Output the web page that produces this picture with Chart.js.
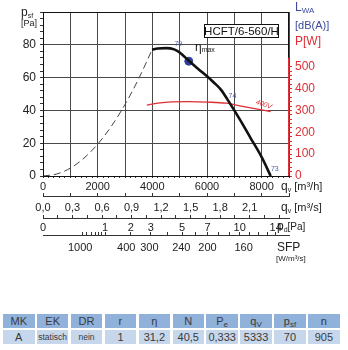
<!DOCTYPE html>
<html><head><meta charset="utf-8">
<script src="https://cdn.jsdelivr.net/npm/chart.js@4/dist/chart.umd.min.js"></script>
<style>
html,body{margin:0;padding:0;background:#fff;}
#wrap{position:relative;width:348px;height:350px;overflow:hidden;font-family:"Liberation Sans",Arial,Helvetica,sans-serif;}
#cv{position:absolute;left:0;top:0;}
.row{position:absolute;left:0;height:14px;width:348px;}
.cell{position:absolute;top:0;height:14px;width:31.5px;text-align:center;line-height:14px;color:#3a3a3a;font-size:11px;white-space:nowrap;}
.hd .cell{background:#8fb1da;}
.dt .cell{background:#c6d7ec;}
.cell .sb{font-size:8px;position:relative;top:2px;}
.cell.sm{font-size:8.5px;}
</style></head>
<body><div id="wrap"><canvas id="cv" width="348" height="265"></canvas>
<div id="tbl"></div></div>
<script>
// ---------- data ----------
const sysQ = [0, 500, 1000, 1500, 2000, 2500, 3000, 3500, 3990];
const sysP = [0, 1.2, 4.8, 10.9, 19.4, 30.3, 43.6, 59.3, 77];
const fanQ = [3990, 4200, 4500, 4800, 5000, 5333, 5700, 6000, 6250, 6500, 6850, 7200, 7600, 8000, 8330];
const fanP = [77, 77.7, 78, 77.2, 75.3, 70.3, 65, 60.8, 57, 52.8, 44, 34.5, 23, 11.5, 0];
const powQ = [3800, 4200, 4700, 5300, 6000, 6700, 7200, 7800, 8330];
const powW = [324, 333, 339, 340, 338, 333, 321, 307, 295];
const etaQ = [5333];
const etaP = [70];

const qhLabels = [0, 2000, 4000, 6000, 8000];
const qsLabels = ['0,0','0,3','0,6','0,9','1,2','1,5','1,8','2,1'];
const qsValues = [0, 0.3, 0.6, 0.9, 1.2, 1.5, 1.8, 2.1];
const pdLabels = ['0','1','2','3','5','7','10','14'];
const pdPos = [0, 2275, 3217, 3940, 5087, 6019, 7194, 8512];
const pdMarkPos = [1439, 1609, 1762, 1903, 2035, 2158, 2275, 3217, 3940, 4550, 5087, 5572, 6019, 6435, 6825, 7194, 7545, 7881, 8203, 8512];
const sfpLabels = ['1000','400','300','240','200','160'];
const sfpPos = [1360, 3046, 3890, 5060, 6020, 7340];
const yLabels = [0, 20, 40, 60, 80];
const y2Labels = [0, 100, 200, 300, 400, 500];

const tableHead = ['MK','EK','DR','r','η','N','P|e','q|V','p|sf','n'];
const tableRow = ['A','statisch','nein','1','31,2','40,5','0,333','5333','70','905'];

// ---------- style ----------
const FF = "'Liberation Sans', Arial, Helvetica, sans-serif";
const RED = '#dc2f36';
const BLUE = '#3b4a9e';
const TXT = '#222';
Chart.defaults.font.family = FF;

const pts = (xs, ys) => xs.map((v, i) => ({x: v, y: ys[i]}));

function sortTicks(list){ return list.sort((a,b)=>a.value-b.value); }

const x1Ticks = () => { const t=[]; for(let v=0; v<=9000; v+=200) t.push({value:v, lab: qhLabels.includes(v)? String(v):'', mark:true}); return t; };
const x2Ticks = () => {
  const t=[]; for(let v=0; v<=9000; v+=1000) t.push({value:v, lab:'', mark:true});
  qsValues.forEach((v,i)=>{ const q=Math.round(v*3600); const f=t.find(o=>o.value===q); if(f) f.lab=qsLabels[i]; else t.push({value:q, lab:qsLabels[i], mark:false}); });
  return sortTicks(t);
};
const x3Ticks = () => {
  const t=[]; for(let k=0; k<=16; k++) t.push({value:Math.round(k*0.15*3600), lab:'', mark:true});
  pdPos.forEach((p,i)=>{ const f=t.find(o=>o.value===p); if(f) f.lab=pdLabels[i]; else t.push({value:p, lab:pdLabels[i], mark:false}); });
  return sortTicks(t);
};
const x4Ticks = () => {
  const t=[]; pdMarkPos.forEach(p=>t.push({value:p, lab:'', mark:true}));
  sfpPos.forEach((p,i)=>t.push({value:p, lab:sfpLabels[i], mark:false}));
  return sortTicks(t);
};

function hScale(weight, height, tickFn, tl, pad){
  return {
    type:'linear', position:'bottom', min:0, max:9000, weight,
    afterBuildTicks: s => { s.ticks = tickFn(); },
    afterFit: s => { s.height = height; },
    ticks:{ autoSkip:false, maxRotation:0, minRotation:0, padding:pad, color:TXT, font:{size:11},
            callback:(v,i,t)=> t[i].lab },
    grid:{ drawOnChartArea:false, tickLength:tl, tickWidth:1,
           tickColor: c => (c.tick && c.tick.mark) ? '#333' : 'rgba(0,0,0,0)' },
    border:{ display:true, color:'#333', width:1 }
  };
}

const annot = {
  id:'annot',
  afterDraw(chart){
    const {ctx, chartArea:a, scales} = chart;
    const x = scales.x, y = scales.y, y2 = scales.y2;
    ctx.save();
    // frame
    ctx.lineWidth = 1; ctx.strokeStyle = '#111';
    const r = Math.round(a.right)-0.5, l = Math.round(a.left)+0.5, t = Math.round(a.top)+0.5;
    const redTop = y2.getPixelForValue(540);
    ctx.beginPath(); ctx.moveTo(l, a.bottom); ctx.lineTo(l, t); ctx.lineTo(r, t); ctx.lineTo(r, redTop); ctx.stroke();
    ctx.strokeStyle = RED; ctx.beginPath(); ctx.moveTo(r, redTop); ctx.lineTo(r, a.bottom); ctx.stroke();

    ctx.textBaseline = 'middle'; ctx.textAlign = 'left';
    function sub(px, py, main, s, ms, ss, col, rest, rs){
      ctx.fillStyle = col;
      ctx.font = ms + 'px ' + FF; ctx.fillText(main, px, py);
      let w = ctx.measureText(main).width;
      ctx.font = ss + 'px ' + FF; ctx.fillText(s, px + w, py + 3);
      w += ctx.measureText(s).width;
      if (rest){ ctx.font = rs + 'px ' + FF; ctx.fillText(rest, px + w, py); }
    }
    // left title
    sub(21, a.top + 1, 'p', 'sf', 12, 7, TXT);
    ctx.font = '9px ' + FF; ctx.fillStyle = TXT; ctx.fillText('[Pa]', 21, a.top + 12);
    // right titles
    const rx = a.right + 6;
    sub(rx, a.top - 4, 'L', 'WA', 12, 8, BLUE);
    ctx.font = '11px ' + FF; ctx.fillStyle = BLUE; ctx.fillText('[dB(A)]', rx, a.top + 14);
    ctx.font = '12px ' + FF; ctx.fillStyle = RED; ctx.fillText('P[W]', rx, a.top + 30);
    // bottom row titles
    const tx = a.right - 8;
    sub(tx, scales.x.top + 11, 'q', 'v', 12, 7, TXT, ' [m³/h]', 11);
    sub(tx, scales.x2.top + 12, 'q', 'v', 12, 7, TXT, ' [m³/s]', 11);
    sub(tx - 4, scales.x3.top + 9, 'p', 'd', 12, 7, TXT, '[Pa]', 10);
    ctx.font = '12px ' + FF; ctx.fillStyle = TXT; ctx.fillText('SFP', tx - 4, scales.x4.top + 13);
    ctx.font = '8px ' + FF; ctx.fillText('[W/m³/s]', tx - 5, scales.x4.top + 24);

    // model box
    const bw = 74, bh = 13, bx = a.right - 11 - bw, by = a.top + 12;
    ctx.fillStyle = '#fff'; ctx.fillRect(bx, by, bw, bh);
    ctx.strokeStyle = '#111'; ctx.strokeRect(bx + 0.5, by + 0.5, bw, bh);
    ctx.fillStyle = '#111'; ctx.font = '11.5px ' + FF; ctx.textAlign = 'center';
    ctx.fillText('HCFT/6-560/H', bx + bw/2 + 0.5, by + bh/2 + 1);

    // curve labels
    ctx.font = '7px ' + FF; ctx.fillStyle = '#4a5aa8';
    ctx.fillText('79', x.getPixelForValue(4950), y.getPixelForValue(80.6));
    ctx.fillText('74', x.getPixelForValue(6930), y.getPixelForValue(48.8));
    ctx.fillText('73', x.getPixelForValue(8480), y.getPixelForValue(4.3));
    ctx.textAlign = 'left';
    sub(x.getPixelForValue(5560), y.getPixelForValue(78.5), 'η', 'max', 12, 7, '#222');
    // 400V
    ctx.save();
    ctx.translate(x.getPixelForValue(8080), y2.getPixelForValue(327));
    ctx.rotate(0.33);
    ctx.font = 'italic 7px ' + FF; ctx.fillStyle = RED; ctx.textAlign = 'center';
    ctx.fillText('400V', 0, 0);
    ctx.restore();
    ctx.restore();
  }
};

new Chart(document.getElementById('cv'), {
  type:'scatter',
  data:{ datasets:[
    { data: pts(fanQ, fanP), showLine:true, borderColor:'#111', borderWidth:2.6, pointRadius:0, cubicInterpolationMode:'monotone', xAxisID:'x', yAxisID:'y' },
    { data: pts(sysQ, sysP), showLine:true, borderColor:'#444', borderWidth:1, borderDash:[7,4], pointRadius:0, cubicInterpolationMode:'monotone', xAxisID:'x', yAxisID:'y' },
    { data: pts(powQ, powW), showLine:true, borderColor:RED, borderWidth:1.3, pointRadius:0, cubicInterpolationMode:'monotone', xAxisID:'x', yAxisID:'y2' },
    { data: pts(etaQ, etaP), showLine:false, pointRadius:4, pointBackgroundColor:'#2f3f9e', pointBorderColor:'#2f3f9e', xAxisID:'x', yAxisID:'y' }
  ]},
  options:{
    responsive:false, animation:false, devicePixelRatio:1,
    layout:{ padding:{ top:12, left:0, right:0, bottom:0 } },
    plugins:{ legend:{display:false}, tooltip:{enabled:false} },
    scales:{
      x:{ type:'linear', position:'bottom', min:0, max:9000, weight:0,
          afterBuildTicks: s => { s.ticks = x1Ticks(); },
          afterFit: s => { s.height = 20; },
          ticks:{ autoSkip:false, maxRotation:0, minRotation:0, padding:2, color:TXT, font:{size:11}, callback:(v,i,t)=>t[i].lab },
          grid:{ color: c => (c.tick && c.tick.value % 1000 === 0) ? '#4a4a4a' : 'rgba(0,0,0,0)', tickColor:'#333', tickLength:2, lineWidth:1 },
          border:{ display:true, color:'#111', width:1 } },
      x2: hScale(1, 22, x2Ticks, -3, 8),
      x3: hScale(2, 17, x3Ticks, -3, 6),
      x4: hScale(3, 30, x4Ticks, -3, 9),
      y:{ type:'linear', position:'left', min:0, max:100,
          afterBuildTicks: s => { const t=[]; for(let v=0; v<=100; v+=4) t.push({value:v}); s.ticks=t; },
          afterFit: s => { s.width = 43; },
          ticks:{ autoSkip:false, padding:4, color:TXT, font:{size:12}, callback:(v)=> yLabels.includes(v)? String(v):'' },
          grid:{ color: c => (c.tick && c.tick.value % 20 === 0) ? '#4a4a4a' : 'rgba(0,0,0,0)', tickColor:'#333', tickLength:3, lineWidth:1 },
          border:{ display:true, color:'#111', width:1 } },
      y2:{ type:'linear', position:'right', min:0, max:750,
          afterBuildTicks: s => { const t=[]; for(let v=0; v<=500; v+=20) t.push({value:v}); s.ticks=t; },
          afterFit: s => { s.width = 59; },
          ticks:{ autoSkip:false, padding:3, color:RED, font:{size:12}, callback:(v)=> y2Labels.includes(v)? String(v):'' },
          grid:{ drawOnChartArea:false, tickColor:RED, tickLength:3 },
          border:{ display:false } }
    }
  },
  plugins:[annot]
});

// ---------- table ----------
const tbl = document.getElementById('tbl');
function cellHtml(s){ const p = s.split('|'); return p.length>1 ? p[0] + '<span class="sb">' + p[1] + '</span>' : s; }
function addRow(cls, top, vals){
  const r = document.createElement('div'); r.className = 'row ' + cls; r.style.top = top + 'px';
  vals.forEach((v,i)=>{ const c=document.createElement('div'); c.className='cell' + ((v==='statisch'||v==='nein')?' sm':''); c.style.left=(3 + i*33.9)+'px'; c.innerHTML=cellHtml(v); r.appendChild(c); });
  tbl.appendChild(r);
}
addRow('hd', 314, tableHead);
addRow('dt', 330, tableRow);
</script></body></html>
